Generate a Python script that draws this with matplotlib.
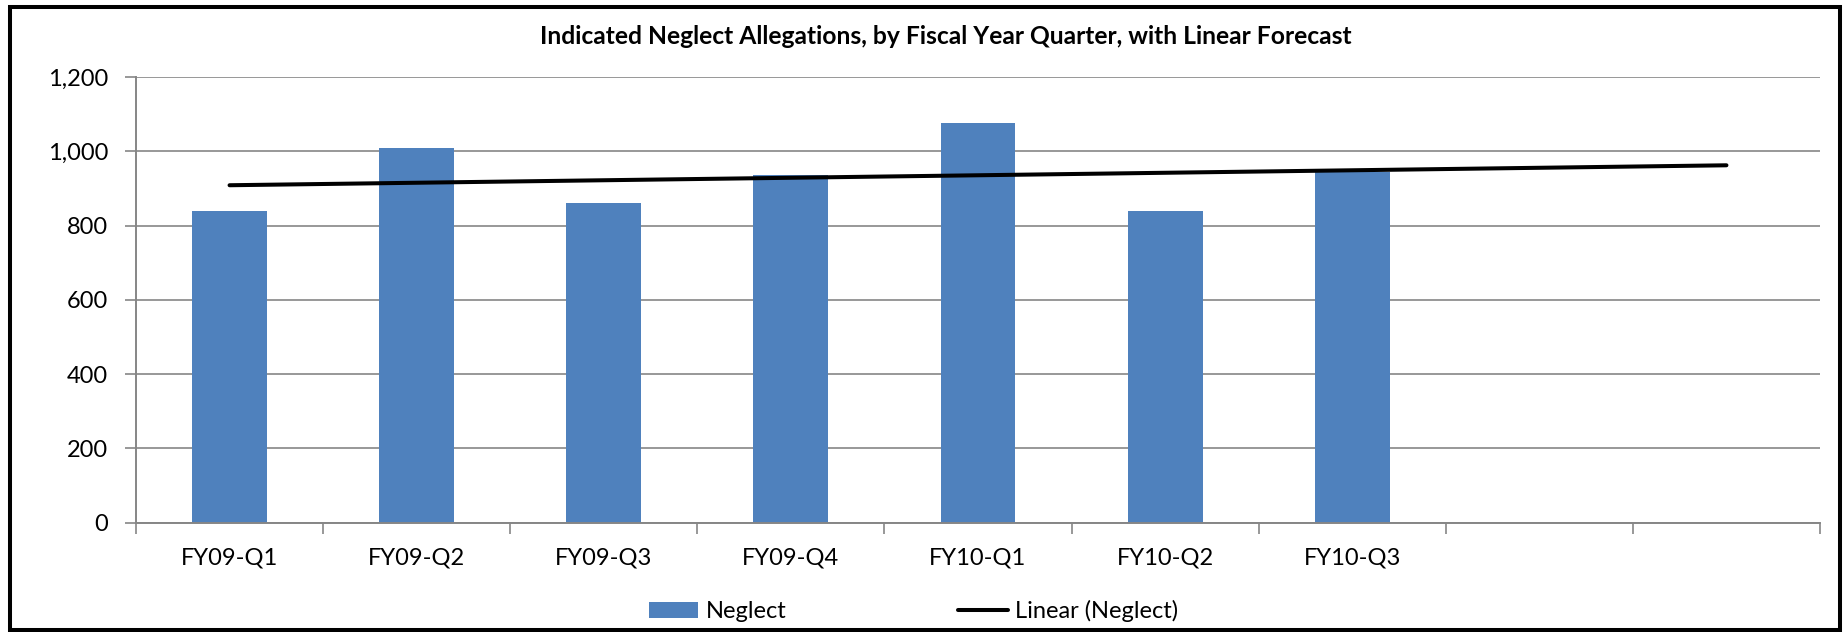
import numpy as np
import matplotlib
matplotlib.use("Agg")
import matplotlib.pyplot as plt
from matplotlib.patches import Rectangle
from matplotlib.ticker import FuncFormatter

plt.rcParams['font.family'] = ['Lato', 'DejaVu Sans']

# Data
quarters = ['FY09-Q1', 'FY09-Q2', 'FY09-Q3', 'FY09-Q4', 'FY10-Q1', 'FY10-Q2', 'FY10-Q3', '', '']
neglect = [838, 1008, 862, 937, 1075, 838, 943]
title = 'Indicated Neglect Allegations, by Fiscal Year Quarter, with Linear Forecast'

bar_color = '#4F81BD'
grid_color = '#868686'

fig = plt.figure(figsize=(18.45, 6.32), dpi=100)
ax = fig.add_axes([136 / 1845, 1 - 522.7 / 632, (1820 - 136) / 1845, (522.7 - 77) / 632])

x_all = np.arange(len(quarters))
x_data = np.arange(len(neglect))
bars = ax.bar(x_data, neglect, width=0.4, color=bar_color, zorder=2, label='Neglect')

# linear trend, forecast over the empty slots
coef = np.polyfit(x_data, neglect, 1)
trend, = ax.plot(x_all, np.polyval(coef, x_all), color='black', lw=2.9,
                 solid_capstyle='round', zorder=3, label='Linear (Neglect)')

ax.set_xlim(-0.5, len(quarters) - 0.5)
ax.set_ylim(0, 1200)
ax.set_yticks(np.arange(0, 1201, 200))
ax.yaxis.set_major_formatter(FuncFormatter(lambda v, p: f'{int(v):,}'))
ax.grid(axis='y', color=grid_color, lw=1.2, zorder=0)

ax.set_xticks(np.arange(-0.5, len(quarters), 1.0))
ax.set_xticklabels([])
ax.set_xticks(x_all, minor=True)
ax.set_xticklabels(quarters, minor=True)
ax.tick_params(axis='x', which='major', length=8, width=1.2, color=grid_color, direction='out')
ax.tick_params(axis='x', which='minor', length=0, pad=18, labelsize=17)
ax.tick_params(axis='y', length=8, width=1.2, color=grid_color, pad=12, labelsize=17)

for s in ['top', 'right']:
    ax.spines[s].set_visible(False)
for s in ['left', 'bottom']:
    ax.spines[s].set_color(grid_color)
    ax.spines[s].set_linewidth(1.4)

fig.text(945.5 / 1845, 1 - 36.5 / 632, title, ha='center', va='center',
         fontsize=17.7, fontweight='bold')

fig.legend([bars, trend], ['Neglect', 'Linear (Neglect)'],
           loc='center', bbox_to_anchor=(913.5 / 1845, 1 - 611 / 632), ncol=2,
           frameon=False, fontsize=17, handlelength=2.1, handleheight=0.7,
           handletextpad=0.3, columnspacing=7.3)

# outer frame
fig.add_artist(Rectangle((10 / 1845, 2 / 632), 1829.5 / 1845, 623 / 632,
                         transform=fig.transFigure, fill=False,
                         edgecolor='black', lw=2.9))

fig.savefig('out.png', dpi=100)
